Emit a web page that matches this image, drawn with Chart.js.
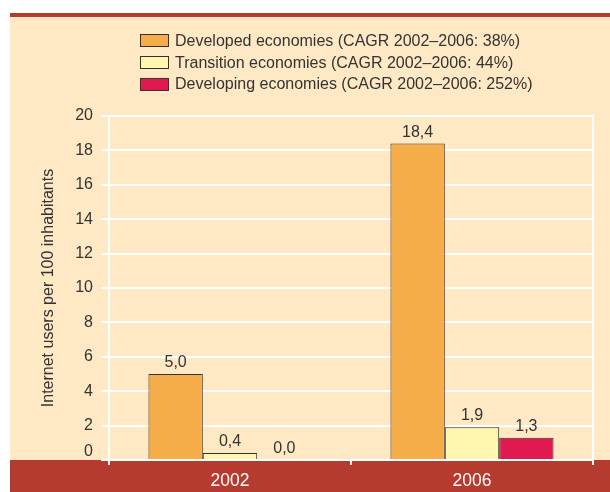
<!DOCTYPE html>
<html>
<head>
<meta charset="utf-8">
<script src="https://cdn.jsdelivr.net/npm/chart.js@4.4.1/dist/chart.umd.min.js"></script>
<style>
  html, body { margin: 0; padding: 0; background: #ffffff; }
  #wrap { position: relative; width: 610px; height: 492px; }
  canvas { position: absolute; left: 0; top: 0; }
  #legend { position: absolute; left: 140px; top: 30px; font-family: "Liberation Sans", Arial, sans-serif; font-size: 16px; color: #333; }
  .row { display: flex; align-items: center; height: 21.8px; white-space: nowrap; }
  .box { width: 27px; height: 11px; border: 1px solid #333; margin-right: 6px; }
</style>
</head>
<body>
<div id="wrap">
  <canvas id="c" width="610" height="492"></canvas>
  <div id="legend"></div>
</div>
<script>
const categories = ["2002", "2006"];
const seriesNames = [
  "Developed economies (CAGR 2002\u20132006: 38%)",
  "Transition economies (CAGR 2002\u20132006: 44%)",
  "Developing economies (CAGR 2002\u20132006: 252%)"
];
const developed = [5.0, 18.4];
const transition = [0.4, 1.9];
const developing = [0.0, 1.3];
const yTicks = [0, 2, 4, 6, 8, 10, 12, 14, 16, 18, 20];
const seriesColors = ["#f5ad4a", "#fff6b0", "#e0194f"];

const CREAM = "#fee9c4";
const RED = "#b53b2e";
const FONT = "'Liberation Sans', Arial, sans-serif";

// HTML legend
const legendEl = document.getElementById("legend");
seriesNames.forEach((name, i) => {
  const row = document.createElement("div");
  row.className = "row";
  const box = document.createElement("div");
  box.className = "box";
  box.style.background = seriesColors[i];
  const txt = document.createElement("span");
  txt.textContent = name;
  row.appendChild(box); row.appendChild(txt);
  legendEl.appendChild(row);
});

const bgPlugin = {
  id: "bg",
  beforeDraw(chart) {
    const ctx = chart.ctx;
    const a = chart.chartArea;
    ctx.save();
    ctx.fillStyle = CREAM;
    ctx.fillRect(10, 17, 600, a.bottom - 17);
    ctx.fillStyle = RED;
    ctx.fillRect(10, 13, 600, 4);
    ctx.fillRect(10, a.bottom, 600, 492 - a.bottom);
    ctx.restore();
  },
  afterDraw(chart) {
    const ctx = chart.ctx;
    const a = chart.chartArea;
    const y = chart.scales.y;
    ctx.save();
    ctx.strokeStyle = "#ffffff";
    ctx.lineWidth = 2;
    ctx.beginPath();
    ctx.moveTo(a.right, a.top - 1);
    ctx.lineTo(a.right, a.bottom + 5);
    ctx.stroke();
    // zero tick label, lifted above the red band
    ctx.font = "16px " + FONT;
    ctx.fillStyle = "#333333";
    ctx.textAlign = "right";
    ctx.textBaseline = "middle";
    ctx.fillText(String(yTicks[0]), a.left - 16, y.getPixelForValue(yTicks[0]) - 8);
    ctx.restore();
  }
};

const labelPlugin = {
  id: "vals",
  afterDatasetsDraw(chart) {
    const ctx = chart.ctx;
    ctx.save();
    ctx.font = "16px " + FONT;
    ctx.fillStyle = "#333333";
    ctx.textAlign = "center";
    ctx.textBaseline = "alphabetic";
    chart.data.datasets.forEach((ds, di) => {
      const meta = chart.getDatasetMeta(di);
      meta.data.forEach((bar, i) => {
        const v = ds.data[i];
        ctx.fillText(v.toFixed(1).replace(".", ","), bar.x, bar.y - 7);
      });
    });
    ctx.restore();
  }
};

new Chart(document.getElementById("c"), {
  type: "bar",
  data: {
    labels: categories,
    datasets: [
      { label: seriesNames[0], data: developed, backgroundColor: seriesColors[0] },
      { label: seriesNames[1], data: transition, backgroundColor: seriesColors[1] },
      { label: seriesNames[2], data: developing, backgroundColor: seriesColors[2] }
    ].map(d => Object.assign(d, {
      borderColor: "#333333", borderWidth: 1, borderSkipped: "bottom",
      categoryPercentage: 0.674, barPercentage: 1.0
    }))
  },
  options: {
    responsive: false,
    animation: false,
    devicePixelRatio: 1,
    layout: { padding: { top: 116, right: 17, left: 0, bottom: 0 } },
    plugins: { legend: { display: false }, tooltip: { enabled: false } },
    scales: {
      x: {
        afterFit(s) { s.height = 32; },
        grid: { display: true, offset: true, drawOnChartArea: false, color: "#ffffff", lineWidth: 2, tickLength: 5 },
        border: { display: false },
        ticks: { color: "#ffffff", font: { family: FONT, size: 17.5 }, padding: 6 }
      },
      y: {
        min: 0, max: 20,
        afterFit(s) { s.width = 109; },
        afterBuildTicks(s) { s.ticks = yTicks.map(v => ({ value: v })); },
        grid: { color: "#ffffff", lineWidth: 2, tickLength: 8 },
        border: { display: true, color: "#ffffff", width: 2 },
        ticks: {
          color: "#333333", font: { family: FONT, size: 16 }, padding: 8,
          callback: (v) => (v === yTicks[0] ? "" : String(v))
        },
        title: {
          display: true, text: "Internet users per 100 inhabitants",
          color: "#333333", font: { family: FONT, size: 16 }, padding: { top: 39, bottom: 0 }
        }
      }
    }
  },
  plugins: [bgPlugin, labelPlugin]
});
</script>
</body>
</html>
